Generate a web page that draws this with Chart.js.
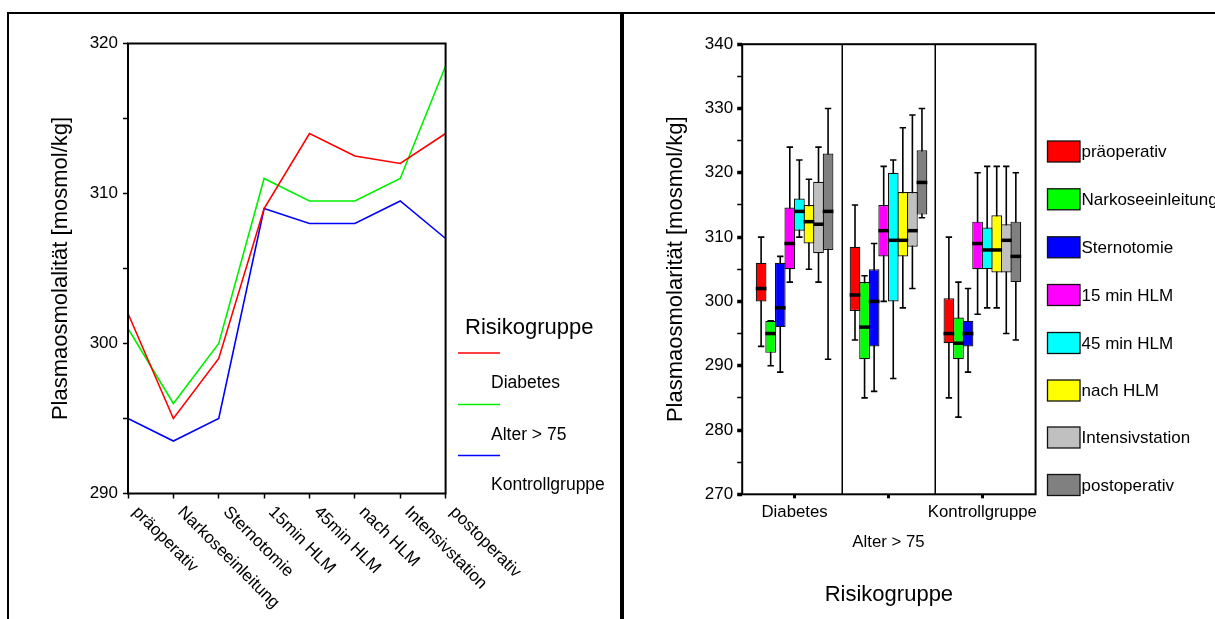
<!DOCTYPE html>
<html>
<head>
<meta charset="utf-8">
<script src="https://cdn.jsdelivr.net/npm/chart.js@4.4.1/dist/chart.umd.min.js"></script>
<style>
  html, body { margin: 0; padding: 0; background: #fff; }
  body { width: 1215px; height: 619px; position: relative; overflow: hidden; }
  canvas { position: absolute; top: 0; }
  #cLeft { left: 0; }
  #cRight { left: 624px; }
  .fr { position: absolute; background: #000; }
</style>
</head>
<body>
<canvas id="cLeft" width="620" height="619"></canvas>
<canvas id="cRight" width="591" height="619"></canvas>
<div class="fr" style="left:7px; top:12px; width:1208px; height:2px;"></div>
<div class="fr" style="left:7px; top:12px; width:2px; height:607px;"></div>
<div class="fr" style="left:620px; top:12px; width:4px; height:607px;"></div>
<script>
// ---------- DATA ----------
const timepoints = ['präoperativ', 'Narkoseeinleitung', 'Sternotomie', '15min HLM', '45min HLM', 'nach HLM', 'Intensivstation', 'postoperativ'];
const lineGroupLabels = ['Diabetes', 'Alter > 75', 'Kontrollgruppe'];
const meanDiabetes = [302, 295, 299, 309, 314, 312.5, 312, 314];
const meanAlter75 = [301, 296, 300, 311, 309.5, 309.5, 311, 318.5];
const meanKontroll = [295, 293.5, 295, 309, 308, 308, 309.5, 307];
const leftYTicks = [290, 300, 310, 320];

const boxGroups = ['Diabetes', 'Alter > 75', 'Kontrollgruppe'];
const boxSeriesLabels = ['präoperativ', 'Narkoseeinleitung', 'Sternotomie', '15 min HLM', '45 min HLM', 'nach HLM', 'Intensivstation', 'postoperativ'];
// each: per group [min, q1, median, q3, max]
const boxPraeoperativ = [[293, 300, 302, 306, 310], [294, 298.5, 301, 308.5, 315], [285, 293.5, 295, 300.5, 310]];
const boxNarkose = [[290, 292, 295, 297, 297], [285, 291, 296, 303, 304], [282, 291, 293.5, 297.5, 303]];
const boxSternotomie = [[289, 296, 299, 306, 307], [286, 293, 300, 305, 309], [289, 293, 295, 297, 302]];
const box15minHLM = [[303, 305, 309, 314.6, 324], [300, 307, 311, 315, 321], [298, 305, 309, 312.4, 320]];
const box45minHLM = [[310, 311, 314, 316, 322], [288, 300, 309.5, 320, 322], [299, 305, 308, 311.5, 321]];
const boxNachHLM = [[305, 309, 312.4, 315, 319], [299, 307, 309.5, 317, 327], [299, 304.5, 308, 313.4, 321]];
const boxIntensiv = [[303, 307.5, 312, 318.6, 324], [302, 308.5, 311, 317, 329], [295, 304.5, 309.5, 312, 321]];
const boxPostoperativ = [[291, 308, 314, 323, 330], [313, 313.5, 318.5, 323.5, 330], [294, 303, 307, 312.4, 320]];
const rightYTicks = [270, 280, 290, 300, 310, 320, 330, 340];

// ---------- STYLE ----------
const FONT = '"Liberation Sans", Arial, Helvetica, sans-serif';
Chart.defaults.font.family = FONT;
Chart.defaults.color = '#000';
const lineColors = ['#ff0000', '#00f000', '#0000ff'];
const boxColors = ['#ff0000', '#00ff00', '#0000ff', '#ff00ff', '#00ffff', '#ffff00', '#c0c0c0', '#808080'];
const boxStats = [boxPraeoperativ, boxNarkose, boxSternotomie, box15minHLM, box45minHLM, boxNachHLM, boxIntensiv, boxPostoperativ];

// ---------- LEFT CHART ----------
const leftPlugin = {
  id: 'leftDecor',
  afterDraw(chart) {
    const { ctx, chartArea: a, scales } = chart;
    ctx.save();
    ctx.strokeStyle = '#000';
    ctx.lineWidth = 2;
    ctx.strokeRect(a.left, a.top, a.right - a.left, a.bottom - a.top);
    // rotated category labels
    ctx.font = '17px ' + FONT;
    ctx.fillStyle = '#000';
    ctx.textAlign = 'left';
    ctx.textBaseline = 'middle';
    timepoints.forEach((lbl, i) => {
      const x = scales.x.getPixelForTick(i);
      ctx.save();
      ctx.translate(x + 7, a.bottom + 16);
      ctx.rotate(Math.PI / 4);
      ctx.fillText(lbl, 0, 0);
      ctx.restore();
    });
    // legend
    ctx.font = '22px ' + FONT;
    ctx.textBaseline = 'middle';
    ctx.fillText('Risikogruppe', 465, 328);
    ctx.font = '17.5px ' + FONT;
    const lineY = [353, 404.5, 455.5];
    const textY = [383.5, 435, 485.5];
    lineGroupLabels.forEach((lbl, i) => {
      ctx.strokeStyle = lineColors[i];
      ctx.lineWidth = 1.6;
      ctx.beginPath();
      ctx.moveTo(458, lineY[i]);
      ctx.lineTo(500, lineY[i]);
      ctx.stroke();
      ctx.fillText(lbl, 491, textY[i]);
    });
    ctx.restore();
  }
};

new Chart(document.getElementById('cLeft'), {
  type: 'line',
  data: {
    labels: timepoints,
    datasets: [
      { label: lineGroupLabels[0], data: meanDiabetes, borderColor: lineColors[0] },
      { label: lineGroupLabels[1], data: meanAlter75, borderColor: lineColors[1] },
      { label: lineGroupLabels[2], data: meanKontroll, borderColor: lineColors[2] }
    ]
  },
  options: {
    responsive: false,
    animation: false,
    layout: { padding: { left: 0, top: 43.5, right: 174.4, bottom: 0 } },
    elements: { point: { radius: 0 }, line: { borderWidth: 1.6, tension: 0 } },
    plugins: { legend: { display: false }, tooltip: { enabled: false } },
    scales: {
      x: {
        type: 'category',
        offset: false,
        border: { display: false },
        grid: { offset: false, drawOnChartArea: false, drawTicks: true, tickLength: 5, tickWidth: 1.5, tickColor: '#000' },
        ticks: { color: 'rgba(0,0,0,0)', autoSkip: false, maxRotation: 0, minRotation: 0 },
        afterFit: (s) => { s.height = 619 - 493.5; }
      },
      y: {
        min: 290, max: 320,
        border: { display: false },
        grid: { drawOnChartArea: false, drawTicks: true, tickLength: 5, tickWidth: 1.5, tickColor: '#000' },
        ticks: {
          stepSize: 5, padding: 5,
          font: { size: 17 },
          callback: (v) => leftYTicks.includes(v) ? String(v) : ''
        },
        title: { display: true, text: 'Plasmaosmolalität [mosmol/kg]', font: { size: 22 }, padding: { top: 47.8, bottom: 0 } },
        afterFit: (s) => { s.width = 128; }
      }
    }
  },
  plugins: [leftPlugin]
});

// ---------- RIGHT CHART ----------
const rightPlugin = {
  id: 'boxDecor',
  beforeDatasetsDraw(chart) {
    const { ctx, scales: { y } } = chart;
    ctx.save();
    ctx.strokeStyle = '#000';
    ctx.lineWidth = 1.6;
    boxStats.forEach((stats, i) => {
      const meta = chart.getDatasetMeta(i);
      meta.data.forEach((el, j) => {
        const s = stats[j];
        const x = el.x;
        const cw = 3.2;
        const yMin = y.getPixelForValue(s[0]);
        const yMax = y.getPixelForValue(s[4]);
        ctx.beginPath();
        ctx.moveTo(x, yMax); ctx.lineTo(x, yMin);
        ctx.moveTo(x - cw, yMax); ctx.lineTo(x + cw, yMax);
        ctx.moveTo(x - cw, yMin); ctx.lineTo(x + cw, yMin);
        ctx.stroke();
      });
    });
    ctx.restore();
  },
  afterDatasetsDraw(chart) {
    const { ctx, scales: { y } } = chart;
    ctx.save();
    ctx.strokeStyle = '#000';
    ctx.lineWidth = 3.5;
    boxStats.forEach((stats, i) => {
      const meta = chart.getDatasetMeta(i);
      meta.data.forEach((el, j) => {
        const ym = y.getPixelForValue(stats[j][2]);
        ctx.beginPath();
        ctx.moveTo(el.x - el.width / 2, ym);
        ctx.lineTo(el.x + el.width / 2, ym);
        ctx.stroke();
      });
    });
    ctx.restore();
  },
  afterDraw(chart) {
    const { ctx, chartArea: a, scales: { x } } = chart;
    ctx.save();
    ctx.strokeStyle = '#000';
    ctx.lineWidth = 2;
    ctx.strokeRect(a.left, a.top, a.right - a.left, a.bottom - a.top);
    ctx.lineWidth = 1.5;
    [0.5, 1.5].forEach((v) => {
      const px = Math.round(x.getPixelForValue(v)) + 0.25;
      ctx.beginPath();
      ctx.moveTo(px, a.top); ctx.lineTo(px, a.bottom);
      ctx.stroke();
    });
    // legend
    ctx.font = '17px ' + FONT;
    ctx.fillStyle = '#000';
    ctx.textAlign = 'left';
    ctx.textBaseline = 'middle';
    const rowY = [151.5, 199.3, 247.3, 295, 343, 390.5, 437.5, 485];
    boxSeriesLabels.forEach((lbl, i) => {
      ctx.fillStyle = boxColors[i];
      ctx.fillRect(423.5, rowY[i] - 10.5, 32.5, 21);
      ctx.strokeStyle = '#111';
      ctx.lineWidth = 1.3;
      ctx.strokeRect(423.5, rowY[i] - 10.5, 32.5, 21);
      ctx.fillStyle = '#000';
      ctx.fillText(lbl, 457.5, rowY[i] + 1);
    });
    ctx.restore();
  }
};

new Chart(document.getElementById('cRight'), {
  type: 'bar',
  data: {
    datasets: boxSeriesLabels.map((lbl, i) => ({
      label: lbl,
      data: boxGroups.map((g, j) => ({ x: j, y: [boxStats[i][j][1], boxStats[i][j][3]] })),
      backgroundColor: boxColors[i],
      borderColor: '#111',
      borderWidth: 1.2,
      borderSkipped: false,
      barPercentage: 1.12,
      categoryPercentage: 0.815
    }))
  },
  options: {
    responsive: false,
    animation: false,
    layout: { padding: { left: 0, top: 44.2, right: 179.4, bottom: 0 } },
    plugins: { legend: { display: false }, tooltip: { enabled: false } },
    scales: {
      x: {
        type: 'linear',
        min: -0.558, max: 2.567,
        offset: false,
        border: { display: false },
        grid: { offset: false, drawOnChartArea: false, drawTicks: true, tickLength: 4, tickWidth: 3, tickColor: '#000' },
        afterBuildTicks: (s) => { s.ticks = boxGroups.map((g, i) => ({ value: i })); },
        ticks: {
          padding: 0,
          font: { size: 16.8, lineHeight: 1.73 },
          callback: (v) => v === 1 ? ['', boxGroups[1]] : boxGroups[v]
        },
        title: { display: true, text: 'Risikogruppe', font: { size: 22 }, padding: { top: 0, bottom: 10.8 } },
        afterFit: (s) => { s.height = 619 - 494.3; }
      },
      y: {
        min: 270, max: 340,
        border: { display: false },
        grid: {
          drawOnChartArea: false, drawTicks: true, tickLength: 5, tickColor: '#000',
          tickWidth: (c) => (c.tick && rightYTicks.includes(c.tick.value)) ? 3.5 : 1.5
        },
        ticks: {
          stepSize: 5, padding: 4,
          font: { size: 17 },
          callback: (v) => rightYTicks.includes(v) ? String(v) : ''
        },
        title: { display: true, text: 'Plasmaosmolarität [mosmol/kg]', font: { size: 22 }, padding: { top: 38.8, bottom: 0 } },
        afterFit: (s) => { s.width = 118.2; }
      }
    }
  },
  plugins: [rightPlugin]
});
</script>
</body>
</html>
